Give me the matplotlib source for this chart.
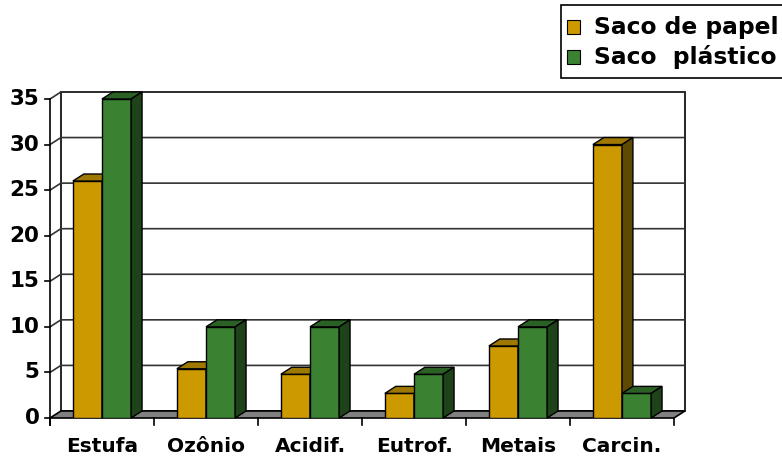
import matplotlib
matplotlib.use('Agg')
from matplotlib import pyplot as plt
from matplotlib.patches import Polygon, Rectangle

# Dados
categorias = ['Estufa', 'Ozônio', 'Acidif.', 'Eutrof.', 'Metais', 'Carcin.']
saco_papel = [26, 5.4, 4.8, 2.7, 7.9, 30]
saco_plastico = [35, 10, 10, 4.8, 10, 2.7]
series = ['Saco de papel', 'Saco  plástico']
yticks = [0, 5, 10, 15, 20, 25, 30, 35]

# Cores (frente, topo, lateral)
cores_papel = ('#CC9900', '#9E7800', '#5E4A00')
cores_plastico = ('#3A8232', '#2C6126', '#1E421A')

plt.rcParams['font.family'] = 'DejaVu Sans'
plt.rcParams['font.weight'] = 'bold'

W, H = 782, 461
fig = plt.figure(figsize=(W / 100, H / 100), dpi=100)
ax = fig.add_axes([50 / W, 43 / H, 624 / W, 319 / H])
ax.set_xlim(0, 6)
ax.set_ylim(0, 35)
ax.axis('off')

# profundidade do efeito 3D (em unidades dos dados)
DX = 0.105
DY = 0.77
n = len(categorias)

# parede do fundo
ax.add_patch(Polygon([(DX, DY), (n + DX, DY), (n + DX, 35 + DY), (DX, 35 + DY)],
                     closed=True, facecolor='white', edgecolor='black', lw=1.2,
                     zorder=0, clip_on=False))
# linhas de grade (parede lateral + fundo)
for v in yticks[1:]:
    ax.plot([0, DX, n + DX], [v, v + DY, v + DY], color='#333333', lw=1.2,
            zorder=1, clip_on=False)
# eixo vertical da frente e marcas
ax.plot([0, 0], [-0.8, 35], color='black', lw=1.2, zorder=1, clip_on=False)
for v in yticks:
    ax.plot([-0.05, 0], [v, v], color='black', lw=1.2, clip_on=False)
    ax.text(-0.1, v, str(v), ha='right', va='center', fontsize=15.5,
            fontweight='bold')
# piso
ax.add_patch(Polygon([(0, 0), (n, 0), (n + DX, DY), (DX, DY)], closed=True,
                     facecolor='#808080', edgecolor='black', lw=1.2, zorder=2,
                     clip_on=False))
# marcas do eixo x
for i in range(n + 1):
    ax.plot([i, i], [0, -0.8], color='black', lw=1.2, clip_on=False)

largura = 0.28
x = [i + 0.5 for i in range(n)]


def barra3d(x0, valor, cores, z):
    x1 = x0 + largura
    ax.bar(x0, valor, width=largura, align='edge', color=cores[0],
           edgecolor='black', lw=1, zorder=z)
    topo = [(x0, valor), (x1, valor), (x1 + DX, valor + DY), (x0 + DX, valor + DY)]
    lado = [(x1, 0), (x1 + DX, DY), (x1 + DX, valor + DY), (x1, valor)]
    ax.add_patch(Polygon(topo, closed=True, facecolor=cores[1], edgecolor='black',
                         lw=1, zorder=z, clip_on=False))
    ax.add_patch(Polygon(lado, closed=True, facecolor=cores[2], edgecolor='black',
                         lw=1, zorder=z, clip_on=False))


for i in range(n):
    barra3d(x[i] - largura, saco_papel[i], cores_papel, 3 + 2 * i)
    barra3d(x[i], saco_plastico[i], cores_plastico, 4 + 2 * i)

for i, c in enumerate(categorias):
    ax.text(x[i], -2.1, c, ha='center', va='top', fontsize=14.5, fontweight='bold')

# legenda (caixa em pixels da figura, origem no canto superior esquerdo)
def px(xp, yp):
    return xp / W, 1 - yp / H

fig.patches.append(Rectangle(px(561, 78), 240 / W, 73 / H, transform=fig.transFigure,
                             facecolor='white', edgecolor='black', lw=1.2))
for k, (nome, cor) in enumerate(zip(series, [cores_papel[0], cores_plastico[0]])):
    yc = 27.5 + 29.5 * k
    fig.patches.append(Rectangle(px(567, yc + 7), 13 / W, 14 / H,
                                 transform=fig.transFigure, facecolor=cor,
                                 edgecolor='black', lw=0.8))
    fig.text(*px(594, yc), nome, ha='left', va='center', fontsize=16.8,
             fontweight='bold')

fig.savefig('out.png', dpi=100)
